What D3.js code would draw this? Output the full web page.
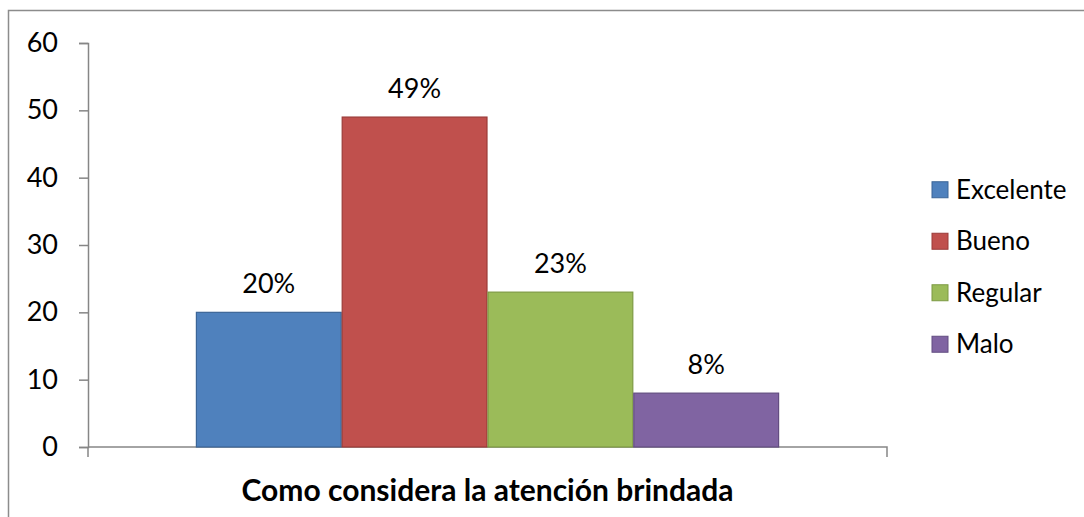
<!DOCTYPE html>
<html><head><meta charset="utf-8">
<script src="https://cdn.jsdelivr.net/npm/d3@7"></script>
<style>body{margin:0;background:#fff}svg{display:block}text{font-family:Lato,"Open Sans",sans-serif}</style>
</head><body><svg id="c" width="1084" height="517"></svg>
<script>
const categories = ["Como considera la atención brindada"];
const seriesNames = ["Excelente","Bueno","Regular","Malo"];
const seriesValues = [20,49,23,8];
const valueLabels = ["20%","49%","23%","8%"];
const yTicks = [0,10,20,30,40,50,60];
const colors = ["#4F81BD","#C0504D","#9BBB59","#8064A2"];
const strokes = ["#3B6597","#9B3B38","#7D9A43","#634D81"];

const svg = d3.select("#c");
svg.append("rect").attr("x",8.5).attr("y",10.5).attr("width",1200).attr("height",600)
  .attr("fill","none").attr("stroke","#8c8c8c").attr("stroke-width",1.5);

const L=88,R=887,T=43,B=447;
const y = d3.scaleLinear().domain([0,60]).range([B,T]);
const x0 = d3.scaleBand().domain(categories).range([L,R]).paddingInner(0).paddingOuter(0.185);
const x1 = d3.scaleBand().domain(seriesNames).range([0,x0.bandwidth()]).padding(0);

const yAxis = svg.append("g").attr("transform",`translate(${L},0)`)
  .call(d3.axisLeft(y).tickValues(yTicks).tickSize(9).tickPadding(21).tickFormat(d3.format("d")));
yAxis.select(".domain").attr("stroke","#868686").attr("stroke-width",1.5);
yAxis.selectAll(".tick line").attr("stroke","#868686").attr("stroke-width",1.5);
yAxis.selectAll("text").attr("font-size",27).attr("fill","#000");

const xAxis = svg.append("g").attr("transform",`translate(0,${B})`)
  .call(d3.axisBottom(x0).tickSize(0).tickFormat(""));
xAxis.select(".domain").remove();
svg.append("path").attr("d",`M${L},${B}H${R}V${B+10}M${L},${B}V${B+10}`)
  .attr("fill","none").attr("stroke","#868686").attr("stroke-width",1.5);

const g = svg.append("g").attr("transform",`translate(${x0(categories[0])},0)`);
g.selectAll("rect").data(seriesValues).join("rect")
  .attr("x",(d,i)=>x1(seriesNames[i])+0.5)
  .attr("y",d=>y(d))
  .attr("width",x1.bandwidth()-1)
  .attr("height",d=>B-y(d))
  .attr("fill",(d,i)=>colors[i]).attr("stroke",(d,i)=>strokes[i]).attr("stroke-width",1.2);
g.selectAll("text").data(seriesValues).join("text")
  .attr("x",(d,i)=>x1(seriesNames[i])+x1.bandwidth()/2)
  .attr("y",d=>y(d)-19)
  .attr("text-anchor","middle").attr("font-size",27).attr("fill","#000")
  .text((d,i)=>valueLabels[i]);

svg.append("text").attr("x",(L+R)/2).attr("y",501).attr("text-anchor","middle")
  .attr("font-size",30).attr("font-weight","bold").attr("fill","#000").text(categories[0]);

const leg = svg.append("g");
const ly = d3.scaleBand().domain(seriesNames).range([164,370]);
seriesNames.forEach((s,i)=>{
  const cy = ly(s)+ly.bandwidth()/2;
  leg.append("rect").attr("x",932).attr("y",cy-8).attr("width",16).attr("height",16)
    .attr("fill",colors[i]).attr("stroke",strokes[i]).attr("stroke-width",1);
  leg.append("text").attr("x",956).attr("y",cy+9).attr("font-size",26).attr("fill","#000").text(s);
});
</script></body></html>
